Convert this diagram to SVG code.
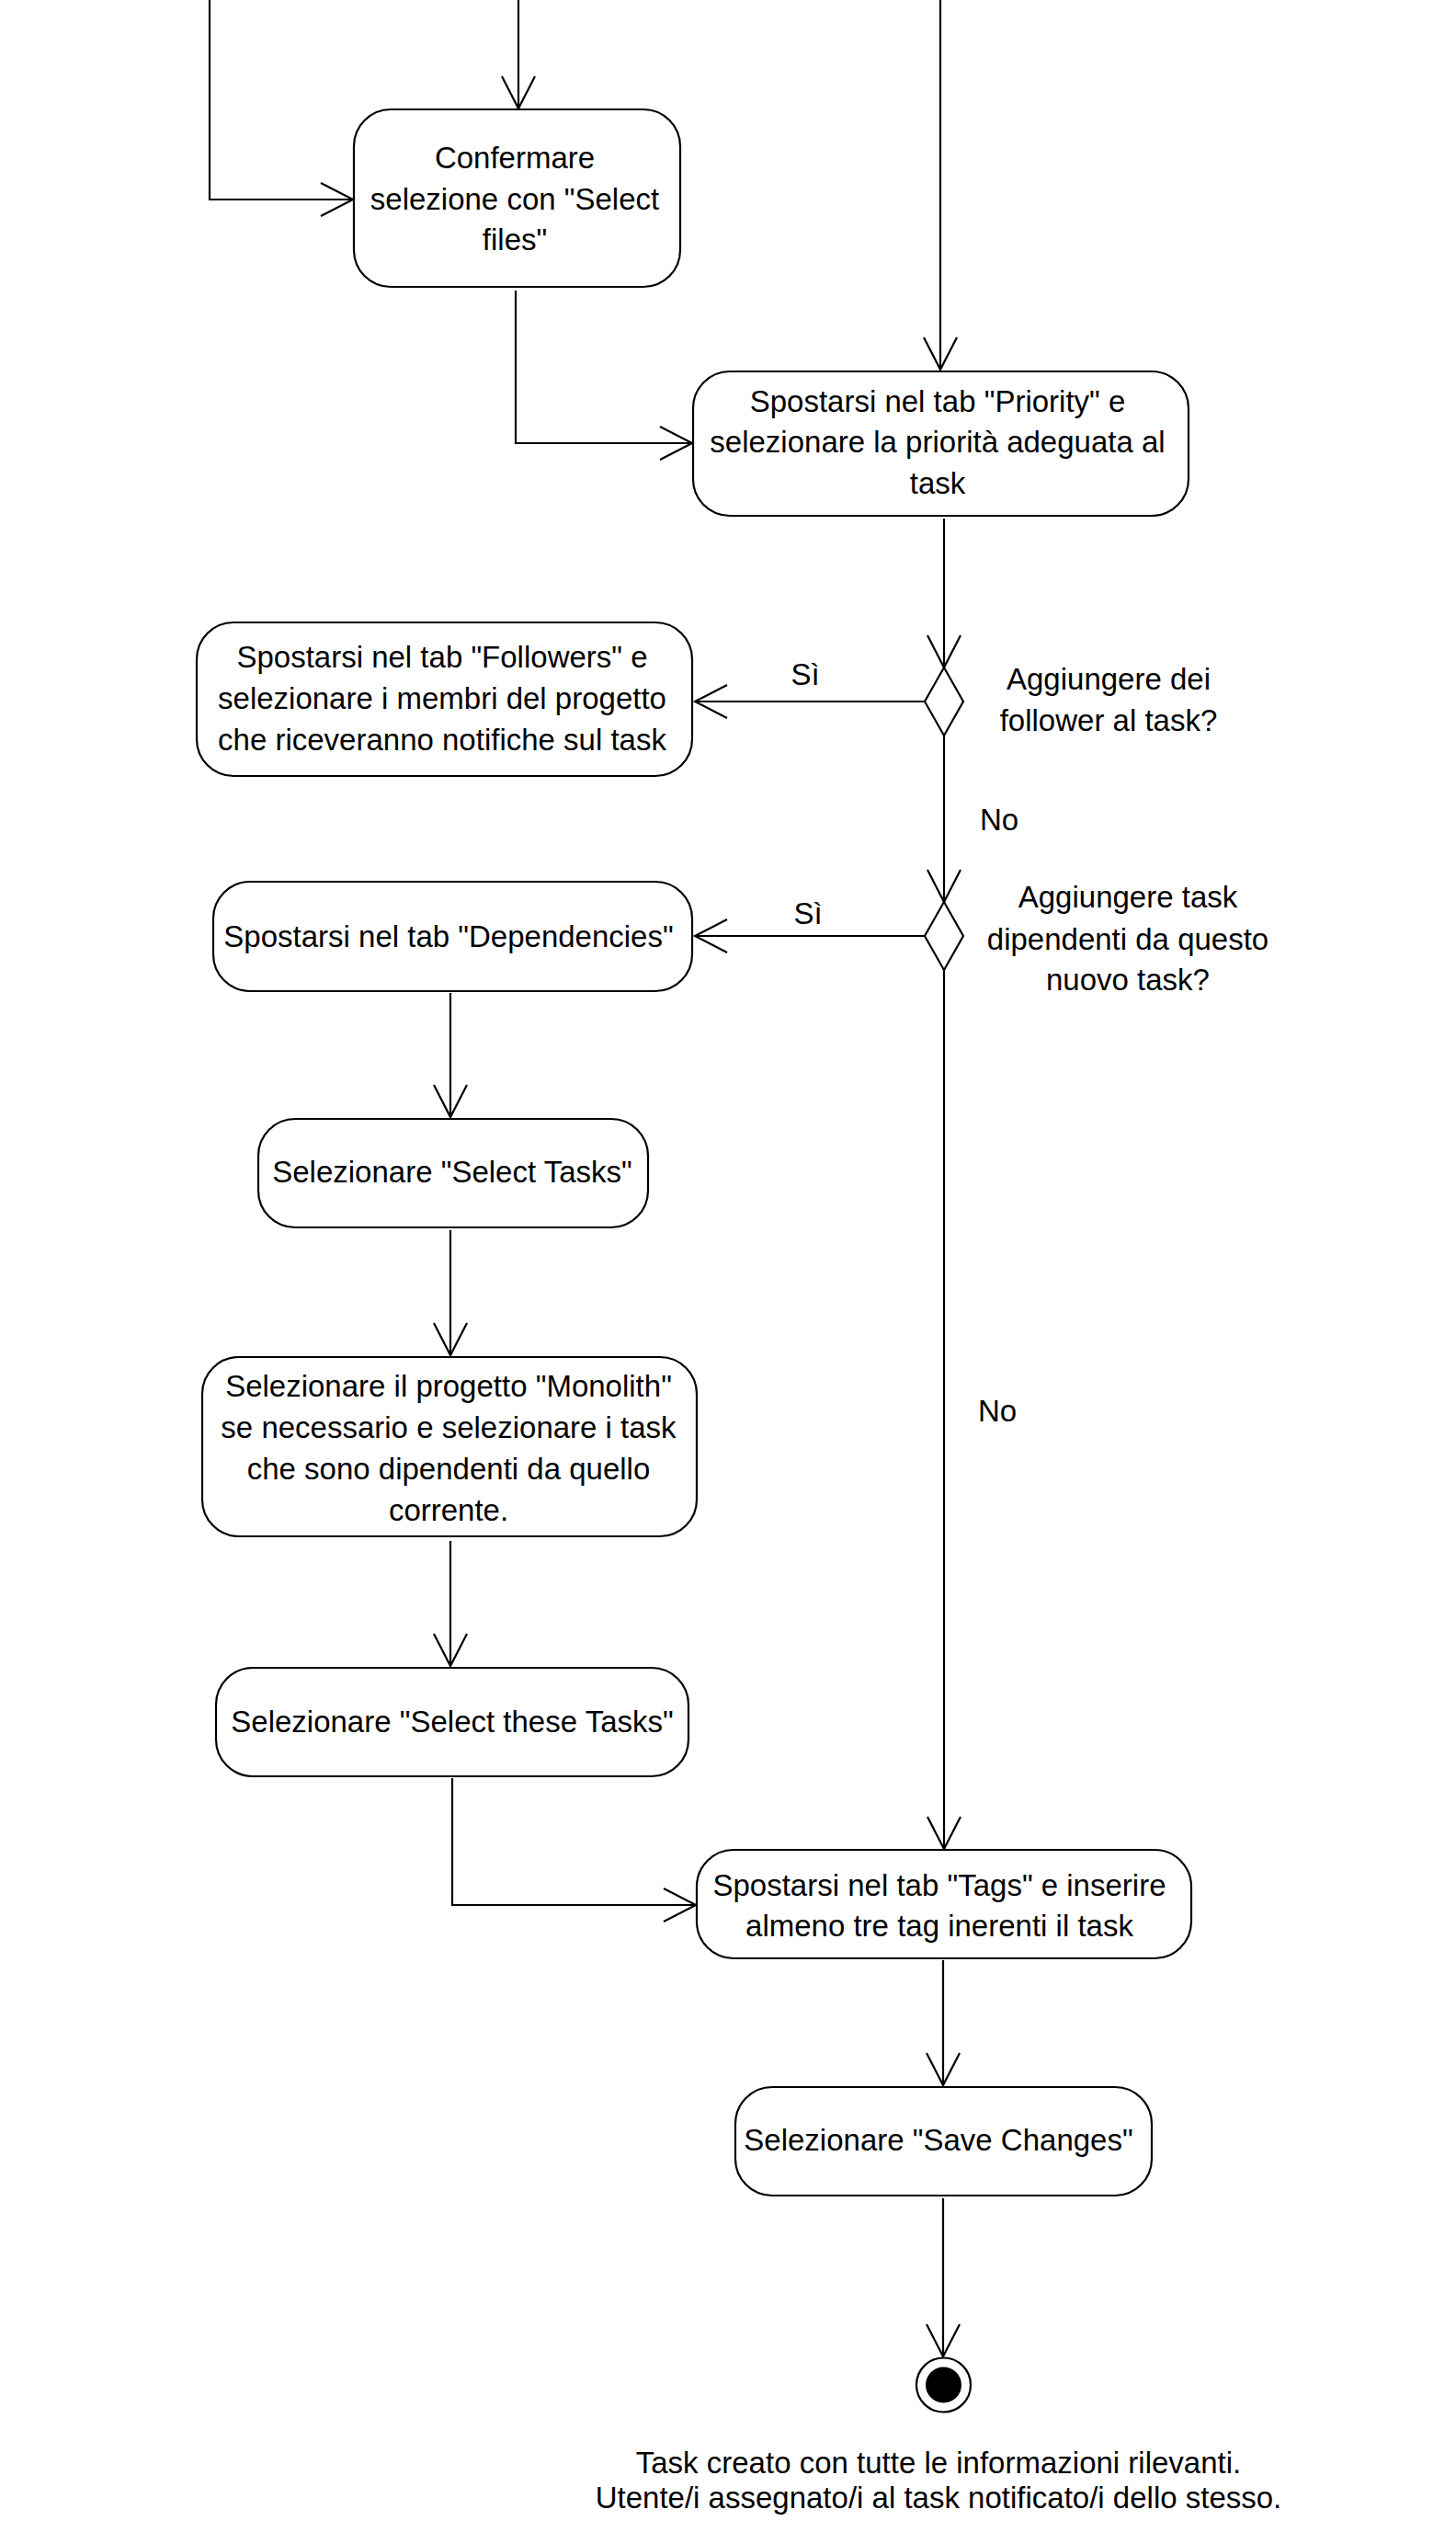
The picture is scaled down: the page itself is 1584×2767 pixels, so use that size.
<svg xmlns="http://www.w3.org/2000/svg" width="1584" height="2767" viewBox="0 0 1584 2767">
<style>
.n{fill:#fff;stroke:#000;stroke-width:2.2}
.t{font-family:"Liberation Sans",Arial,sans-serif;font-size:33px;fill:#000;text-anchor:middle}
.l{font-family:"Liberation Sans",Arial,sans-serif;font-size:33px;fill:#000}
.c{fill:none;stroke:#000;stroke-width:2.2}
</style>
<defs>
<marker id="arr" viewBox="-40 -22 44 44" markerWidth="44" markerHeight="44" refX="0" refY="0" orient="auto" markerUnits="userSpaceOnUse">
<path d="M-35,-18 L0,0 L-35,18" fill="none" stroke="#000" stroke-width="2.2"/>
</marker>
</defs>
<rect width="1584" height="2767" fill="#fff"/>
<g id="connectors">
<path class="c" d="M228,0 V217 H384" marker-end="url(#arr)"/>
<path class="c" d="M564,0 V118" marker-end="url(#arr)"/>
<path class="c" d="M1023,0 V402" marker-end="url(#arr)"/>
<path class="c" d="M561,316 V482 H753" marker-end="url(#arr)"/>
<path class="c" d="M1027,564 V726" marker-end="url(#arr)"/>
<path class="c" d="M1006,763 H756" marker-end="url(#arr)"/>
<path class="c" d="M1027,800 V981" marker-end="url(#arr)"/>
<path class="c" d="M1006,1018 H756" marker-end="url(#arr)"/>
<path class="c" d="M1027,1055 V2011" marker-end="url(#arr)"/>
<path class="c" d="M490,1080 V1215" marker-end="url(#arr)"/>
<path class="c" d="M490,1338 V1474" marker-end="url(#arr)"/>
<path class="c" d="M490,1676 V1812" marker-end="url(#arr)"/>
<path class="c" d="M492,1934 V2072 H757" marker-end="url(#arr)"/>
<path class="c" d="M1026,2132 V2268" marker-end="url(#arr)"/>
<path class="c" d="M1026,2391 V2563" marker-end="url(#arr)"/>
<text class="l" x="876" y="745" text-anchor="middle">Sì</text>
<text class="l" x="879" y="1005" text-anchor="middle">Sì</text>
<text class="l" x="1066" y="903">No</text>
<text class="l" x="1064" y="1546">No</text>
</g>
<g id="node-confermare">
<rect class="n" x="385" y="119" width="355" height="193" rx="40"/>
<text class="t" x="560" y="183">Confermare</text>
<text class="t" x="560" y="228">selezione con "Select</text>
<text class="t" x="560" y="272">files"</text>
</g>
<g id="node-priority">
<rect class="n" x="754" y="404" width="539" height="157" rx="40"/>
<text class="t" x="1020" y="448">Spostarsi nel tab "Priority" e</text>
<text class="t" x="1020" y="492">selezionare la priorità adeguata al</text>
<text class="t" x="1020" y="537">task</text>
</g>
<g id="decision-followers">
<path class="n" d="M1027,726 L1048,763 L1027,800 L1006,763 Z"/>
<text class="t" x="1206" y="750">Aggiungere dei</text>
<text class="t" x="1206" y="795">follower al task?</text>
</g>
<g id="node-followers">
<rect class="n" x="214" y="677" width="539" height="167" rx="40"/>
<text class="t" x="481" y="726">Spostarsi nel tab "Followers" e</text>
<text class="t" x="481" y="771">selezionare i membri del progetto</text>
<text class="t" x="481" y="816">che riceveranno notifiche sul task</text>
</g>
<g id="decision-dependencies">
<path class="n" d="M1027,981 L1048,1018 L1027,1055 L1006,1018 Z"/>
<text class="t" x="1227" y="987">Aggiungere task</text>
<text class="t" x="1227" y="1033">dipendenti da questo</text>
<text class="t" x="1227" y="1077">nuovo task?</text>
</g>
<g id="node-dependencies">
<rect class="n" x="232" y="959" width="521" height="119" rx="40"/>
<text class="t" x="488" y="1030">Spostarsi nel tab "Dependencies"</text>
</g>
<g id="node-select-tasks">
<rect class="n" x="281" y="1217" width="424" height="118" rx="40"/>
<text class="t" x="492" y="1286">Selezionare "Select Tasks"</text>
</g>
<g id="node-monolith">
<rect class="n" x="220" y="1476" width="538" height="195" rx="40"/>
<text class="t" x="488" y="1519">Selezionare il progetto "Monolith"</text>
<text class="t" x="488" y="1564">se necessario e selezionare i task</text>
<text class="t" x="488" y="1609">che sono dipendenti da quello</text>
<text class="t" x="488" y="1654">corrente.</text>
</g>
<g id="node-select-these">
<rect class="n" x="235" y="1814" width="514" height="118" rx="40"/>
<text class="t" x="492" y="1884">Selezionare "Select these Tasks"</text>
</g>
<g id="node-tags">
<rect class="n" x="758" y="2012" width="538" height="118" rx="40"/>
<text class="t" x="1022" y="2062">Spostarsi nel tab "Tags" e inserire</text>
<text class="t" x="1022" y="2106">almeno tre tag inerenti il task</text>
</g>
<g id="node-save">
<rect class="n" x="800" y="2270" width="453" height="118" rx="40"/>
<text class="t" x="1021" y="2339">Selezionare "Save Changes"</text>
</g>
<g id="final-node">
<circle cx="1026.5" cy="2594" r="29.5" fill="#fff" stroke="#000" stroke-width="2.2"/>
<circle cx="1026.5" cy="2594" r="19.5" fill="#000"/>
<text class="t" x="1021" y="2690">Task creato con tutte le informazioni rilevanti.</text>
<text class="t" x="1021" y="2728">Utente/i assegnato/i al task notificato/i dello stesso.</text>
</g>
</svg>
